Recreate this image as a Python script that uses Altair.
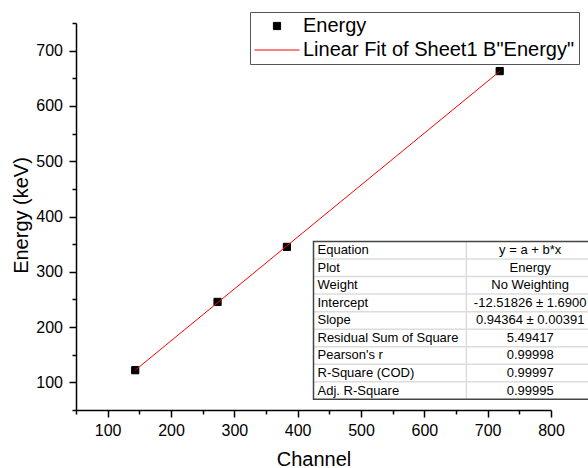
import json
import altair as alt
import pandas as pd

# ---------------- data ----------------
channels = [143.5, 273.5, 383.0, 719.0]
energies = [122.0, 245.5, 345.0, 663.0]
series_names = ["Energy", 'Linear Fit of Sheet1 B"Energy"']

x_ticks = [100, 200, 300, 400, 500, 600, 700, 800]
x_minor = [50, 150, 250, 350, 450, 550, 650, 750]
y_ticks = [100, 200, 300, 400, 500, 600, 700]
y_minor = [50, 150, 250, 350, 450, 550, 650, 750]

table_labels = ["Equation", "Plot", "Weight", "Intercept", "Slope",
                "Residual Sum of Square", "Pearson's r", "R-Square (COD)",
                "Adj. R-Square"]
table_values = ["y = a + b*x", "Energy", "No Weighting", "-12.51826 ± 1.6900",
                "0.94364 ± 0.00391", "5.49417", "0.99998", "0.99997", "0.99995"]

FONT = "Liberation Sans"
W, H = 475, 387

pts_df = pd.DataFrame({"channel": channels, "energy": energies,
                       "series": series_names[0]})

xs = alt.Scale(domain=[50, 800], nice=False, zero=False)
ys = alt.Scale(domain=[50, 750], nice=False, zero=False)

# ---------------- axes ----------------
x_axis = alt.Axis(values=x_ticks, orient="bottom", title="Channel",
                  titleFont=FONT, titleFontSize=20, titleFontWeight="normal",
                  titleColor="black", titleX=W / 2, titleY=55,
                  titleBaseline="alphabetic", titleAlign="center",
                  labelFont=FONT, labelFontSize=16, labelColor="black",
                  labelBaseline="alphabetic", labelPadding=18,
                  labelFlush=False, labelOverlap=False,
                  tickSize=7, tickColor="black", tickWidth=1.5,
                  domainColor="black", domainWidth=1.5, grid=False)
y_axis = alt.Axis(values=y_ticks, orient="left", title="Energy (keV)",
                  titleFont=FONT, titleFontSize=20, titleFontWeight="normal",
                  titleColor="black", titleX=-54.5, titleY=192,
                  titleBaseline="middle", titleAlign="center", titleAngle=270,
                  labelFont=FONT, labelFontSize=16, labelColor="black",
                  labelPadding=6.5, labelFlush=False, labelOverlap=False,
                  tickSize=7, tickColor="black", tickWidth=1.5,
                  domainColor="black", domainWidth=1.5, grid=False)
x_minor_axis = alt.Axis(values=x_minor, orient="bottom", title=None,
                        labels=False, domain=False, grid=False,
                        tickSize=4, tickColor="black", tickWidth=1.5)
y_minor_axis = alt.Axis(values=y_minor, orient="left", title=None,
                        labels=False, domain=False, grid=False,
                        tickSize=4, tickColor="black", tickWidth=1.5)

# ---------------- legend ----------------
leg = alt.Legend(title=None, orient="none", legendX=174, legendY=-11,
                 direction="vertical", fillColor="white",
                 strokeColor="#555555", padding=4, clipHeight=20,
                 labelFont=FONT, labelFontSize=20, labelColor="black",
                 labelLimit=600, labelOffset=3, rowPadding=4,
                 symbolStrokeWidth=1, symbolOpacity=1)

fill_scale = alt.Scale(domain=series_names, range=["black", "#ff0000"])
stroke_scale = alt.Scale(domain=series_names, range=["black", "#ff0000"])
shape_scale = alt.Scale(domain=series_names, range=["square", "stroke"])
size_scale = alt.Scale(domain=series_names, range=[52, 2025])

minor = alt.Chart(pts_df).mark_point(opacity=0).encode(
    x=alt.X("channel:Q", scale=xs, axis=x_minor_axis),
    y=alt.Y("energy:Q", scale=ys, axis=y_minor_axis),
)

points = alt.Chart(pts_df).mark_point(filled=True, opacity=1, strokeWidth=1).encode(
    x=alt.X("channel:Q", scale=xs, axis=x_axis),
    y=alt.Y("energy:Q", scale=ys, axis=y_axis),
    fill=alt.Fill("series:N", scale=fill_scale, legend=leg),
    stroke=alt.Stroke("series:N", scale=stroke_scale, legend=leg),
    shape=alt.Shape("series:N", scale=shape_scale, legend=leg),
    size=alt.Size("series:N", scale=size_scale, legend=leg),
)

fitline = alt.Chart(pts_df).transform_regression(
    "channel", "energy", method="linear"
).transform_calculate(
    series=json.dumps(series_names[1])
).mark_line(strokeWidth=1).encode(
    x=alt.X("channel:Q", scale=xs, axis=None),
    y=alt.Y("energy:Q", scale=ys, axis=None),
    stroke=alt.Stroke("series:N", scale=stroke_scale, legend=leg),
)

main = alt.layer(minor, points, fitline).resolve_axis(x="independent", y="independent")

# ---------------- statistics table ----------------
n_rows = len(table_labels)
SPLIT = 0.545
table_df = pd.DataFrame({"row": list(range(n_rows)),
                         "label": table_labels, "value": table_values})
table_df["mid"] = table_df["row"] + 0.5
table_df["x0"] = 0.0
table_df["xv"] = (SPLIT + 1) / 2
frame_df = pd.DataFrame({"x0": [0.0], "x1": [1.0], "y0": [0], "y1": [n_rows],
                         "xs": [SPLIT]})
hline_df = pd.DataFrame({"b": list(range(1, n_rows)), "x0": 0.0, "x1": 1.0})

tx = alt.Scale(domain=[0, 1], range=[237.5, 518])
ty = alt.Scale(domain=[0, n_rows], range=[218.5, 376.3])

bg = alt.Chart(frame_df).mark_rect(fill="white").encode(
    x=alt.X("x0:Q", scale=tx, axis=None), x2="x1:Q",
    y=alt.Y("y0:Q", scale=ty, axis=None), y2="y1:Q")
hl = alt.Chart(hline_df).mark_rule(color="#dcdcdc", strokeWidth=1.5).encode(
    x=alt.X("x0:Q", scale=tx, axis=None), x2="x1:Q",
    y=alt.Y("b:Q", scale=ty, axis=None))
vl = alt.Chart(frame_df).mark_rule(color="#dcdcdc", strokeWidth=1.5).encode(
    x=alt.X("xs:Q", scale=tx, axis=None),
    y=alt.Y("y0:Q", scale=ty, axis=None), y2="y1:Q")
border = alt.Chart(frame_df).mark_rect(fill="transparent", stroke="#444444",
                                       strokeWidth=1.5).encode(
    x=alt.X("x0:Q", scale=tx, axis=None), x2="x1:Q",
    y=alt.Y("y0:Q", scale=ty, axis=None), y2="y1:Q")
lab = alt.Chart(table_df).mark_text(align="left", baseline="middle", dx=4,
                                    font=FONT, fontSize=13, color="black").encode(
    x=alt.X("x0:Q", scale=tx, axis=None),
    y=alt.Y("mid:Q", scale=ty, axis=None), text="label:N")
val = alt.Chart(table_df).mark_text(align="center", baseline="middle",
                                    font=FONT, fontSize=13, color="black").encode(
    x=alt.X("xv:Q", scale=tx, axis=None),
    y=alt.Y("mid:Q", scale=ty, axis=None), text="value:N")

table = alt.layer(bg, hl, vl, border, lab, val)

chart = alt.layer(main, table).resolve_scale(
    x="independent", y="independent"
).properties(
    width=W, height=H,
    autosize=alt.AutoSizeParams(type="none"),
    padding={"left": 76, "top": 23, "right": 37, "bottom": 58},
    background="white",
).configure_view(stroke="transparent")

chart.save("out.html", embed_options={"renderer": "svg", "actions": False})
